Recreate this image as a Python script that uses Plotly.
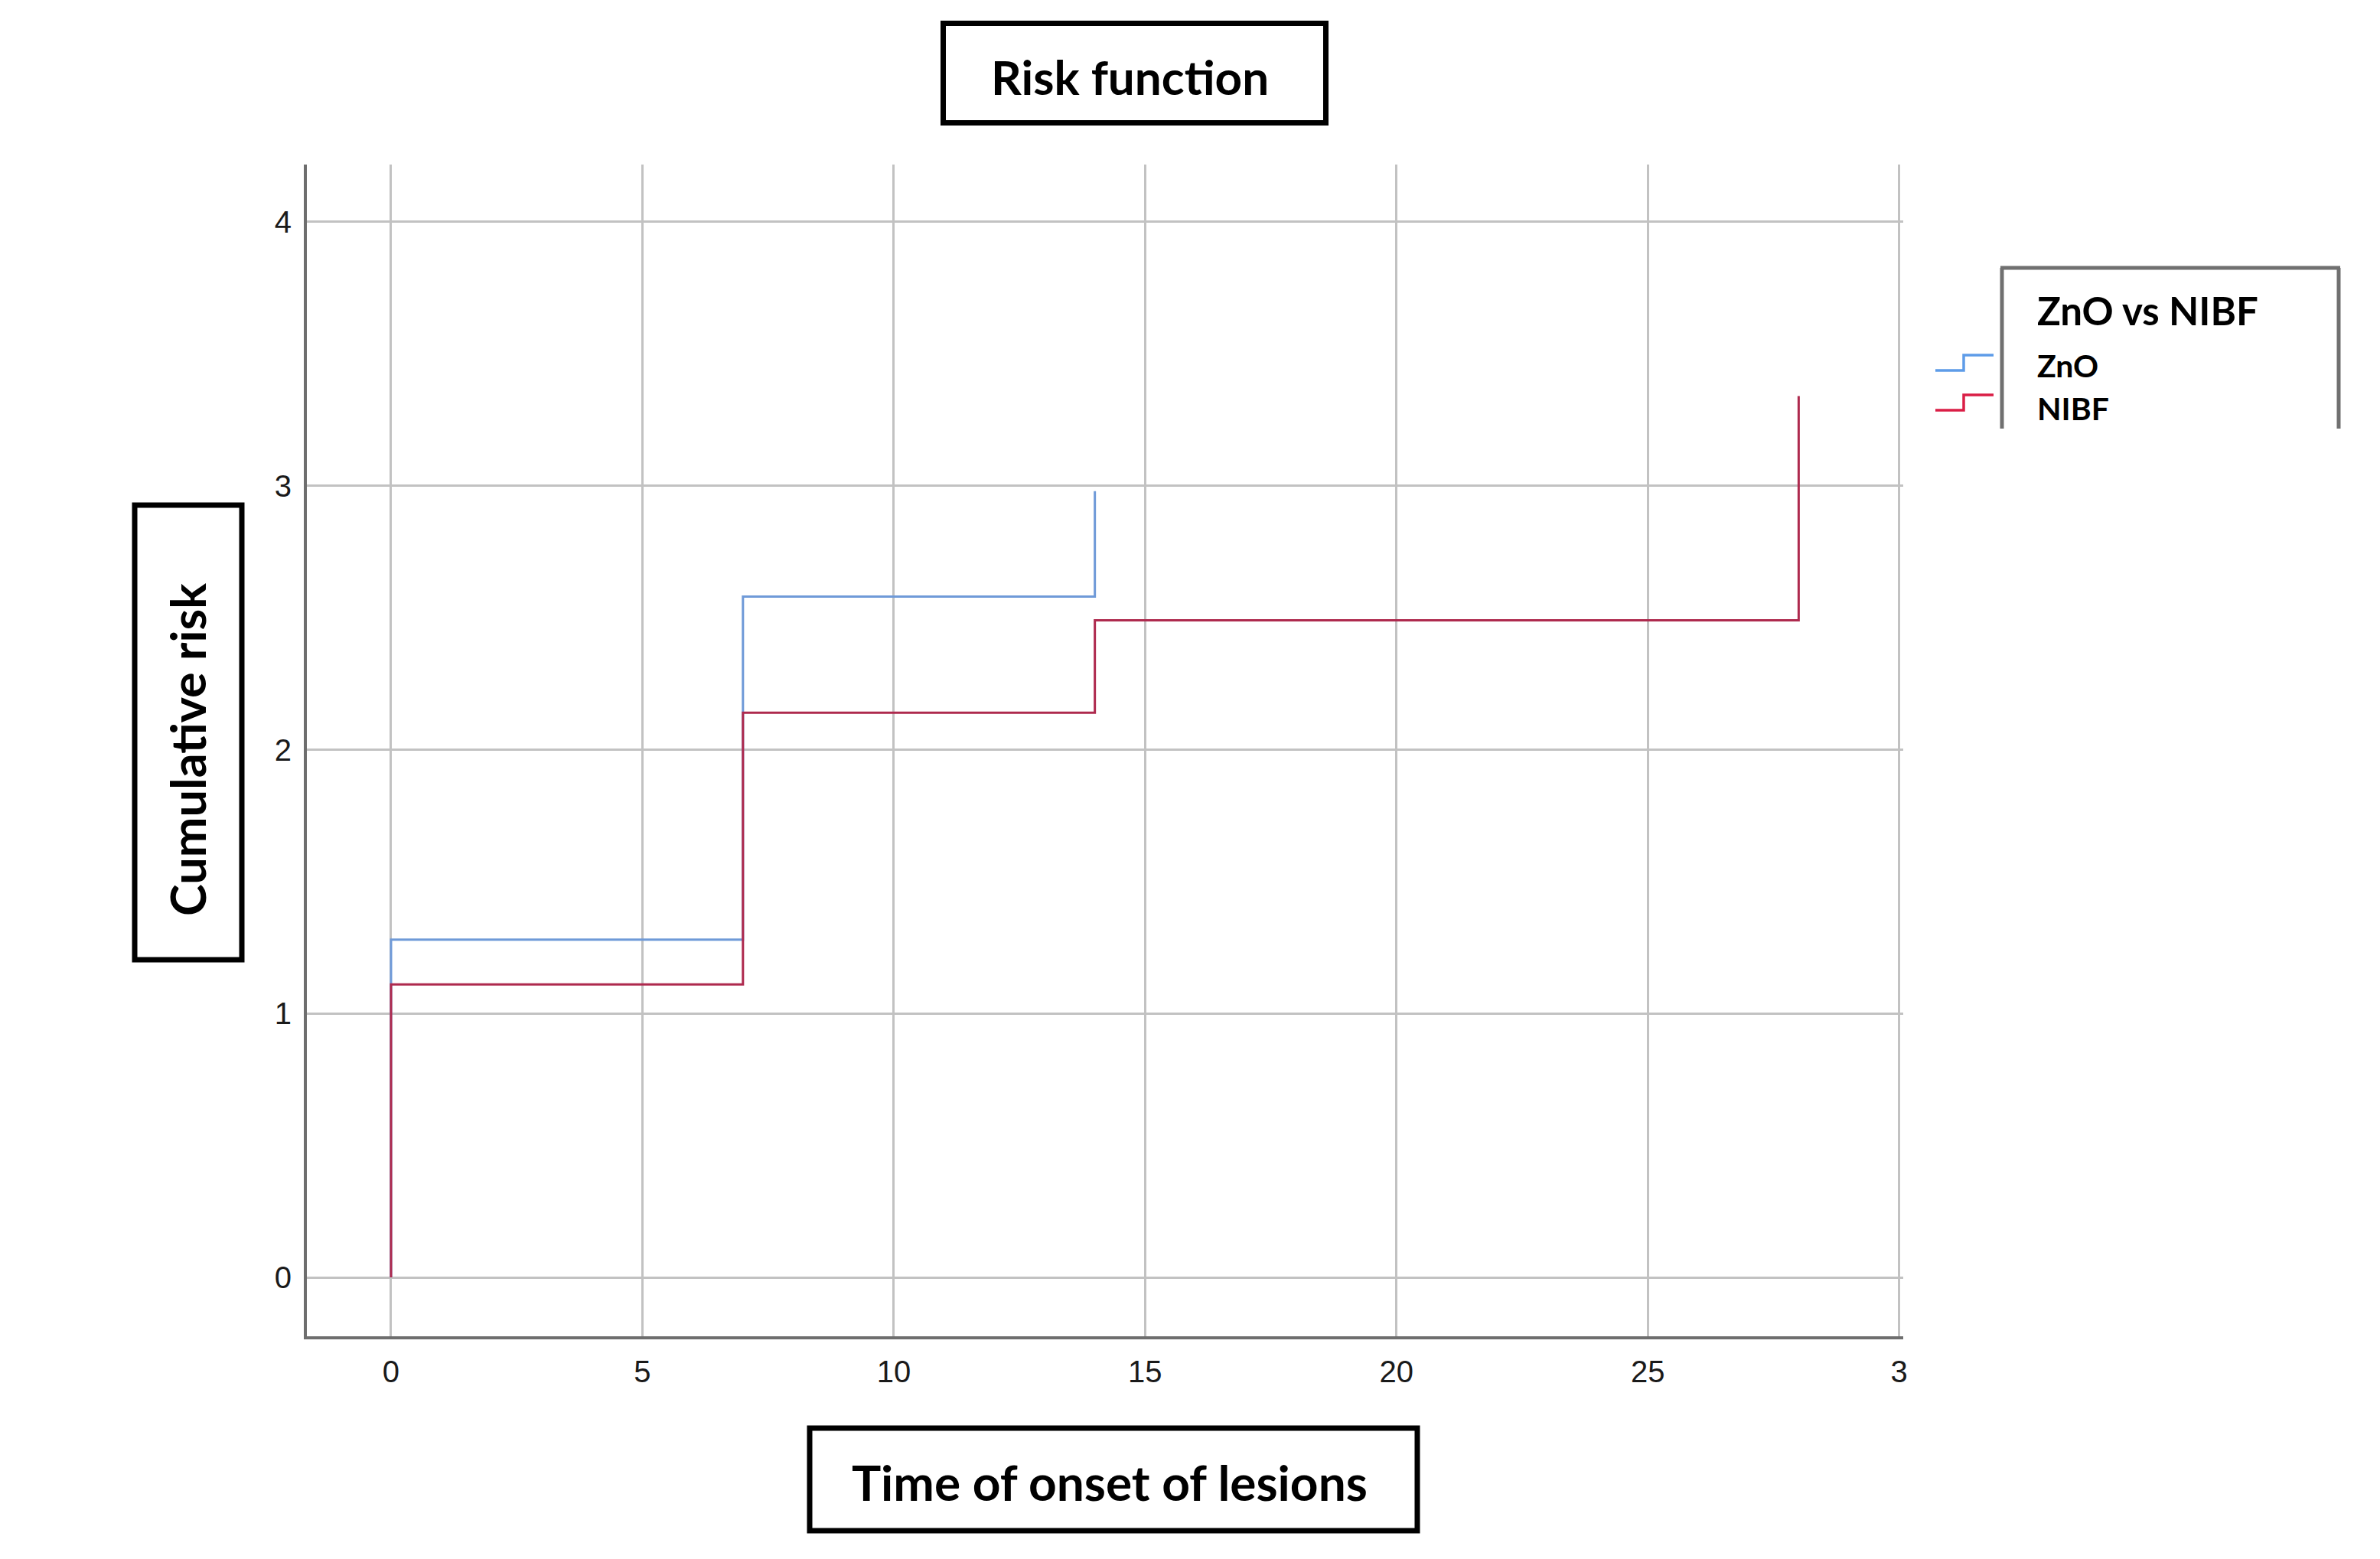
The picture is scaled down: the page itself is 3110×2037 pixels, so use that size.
import plotly.graph_objects as go

# ---------------- data ----------------
zno_time = [0, 0, 7, 14]
zno_risk = [0, 1.28, 2.58, 2.98]

nibf_time = [0, 0, 7, 14, 28]
nibf_risk = [0, 1.11, 2.14, 2.49, 3.34]

x_tick_vals = [0, 5, 10, 15, 20, 25, 30]
x_tick_text = ["0", "5", "10", "15", "20", "25", "3"]
y_tick_vals = [0, 1, 2, 3, 4]
y_tick_text = ["0", "1", "2", "3", "4"]

title_text = "Risk function"
x_title_text = "Time of onset of lesions"
y_title_text = "Cumulative risk"
legend_title_text = "ZnO vs NIBF"
series_names = ["ZnO", "NIBF"]

# ---------------- styling ----------------
W, H = 3110, 2037
L, R, T, B = 401, 2487, 215, 1746
OFF = 8  # page body margin
BLUE = "#6F9AD8"
RED = "#AE2A4E"
BLUE_LEG = "#5E9CE8"
RED_LEG = "#DA1E46"


def px_x(x):
    return (x - L) / (R - L)


def px_y(y):
    return (B - y) / (B - T)


fig = go.Figure()
fig.add_trace(go.Scatter(x=zno_time, y=zno_risk, mode="lines", name=series_names[0],
                         line=dict(color=BLUE, width=3, shape="hv"), showlegend=False))
fig.add_trace(go.Scatter(x=nibf_time, y=nibf_risk, mode="lines", name=series_names[1],
                         line=dict(color=RED, width=3, shape="hv"), showlegend=False))

axis_font = dict(family="Liberation Sans", size=40, color="#1a1a1a")
fig.update_xaxes(range=[-1.674, 30.08], tickvals=x_tick_vals, ticktext=x_tick_text,
                 showgrid=True, gridcolor="#c2c2c2", gridwidth=2.5,
                 showline=True, linecolor="#6e6e6e", linewidth=4,
                 zeroline=False, ticks="", tickfont=axis_font, ticklabelstandoff=8)
fig.update_yaxes(range=[-0.2233, 4.2175], tickvals=y_tick_vals, ticktext=y_tick_text,
                 showgrid=True, gridcolor="#c2c2c2", gridwidth=2.5,
                 showline=True, linecolor="#6e6e6e", linewidth=4,
                 zeroline=False, ticks="", tickfont=axis_font, ticklabelstandoff=8)

shapes = []
annotations = []


def box(x0, y0, x1, y1, width=7, color="black"):
    shapes.append(dict(type="rect", xref="paper", yref="paper",
                       x0=px_x(x0), x1=px_x(x1), y0=px_y(y1), y1=px_y(y0),
                       line=dict(color=color, width=width), fillcolor="rgba(0,0,0,0)"))


def text(s, x, y, size, anchor="center", angle=0, bold=True, family="Lato"):
    annotations.append(dict(text=("<b>%s</b>" % s) if bold else s, xref="paper", yref="paper",
                            x=px_x(x), y=px_y(y), xanchor=anchor, yanchor="middle",
                            showarrow=False, textangle=angle,
                            font=dict(family=family, size=size, color="black")))


# Title box
box(1232.5, 30.5, 1732.5, 160.5)
text(title_text, 1476, 100, 62)

# Y title box
box(176, 660, 316, 1254)
text(y_title_text, 244, 980, 63, angle=-90)

# X title box
box(1058, 1866, 1852, 2000)
text(x_title_text, 1450, 1936, 64)

# Legend frame (left, top, right; open at bottom)
LC = "#707070"
for (x0, y0, x1, y1) in [(2616, 350, 2616, 560), (2614, 350, 3058, 350), (3056, 350, 3056, 560)]:
    shapes.append(dict(type="line", xref="paper", yref="paper",
                       x0=px_x(x0), x1=px_x(x1), y0=px_y(y0), y1=px_y(y1),
                       line=dict(color=LC, width=5)))

text(legend_title_text, 2660, 405, 51, anchor="left")
text(series_names[0], 2660, 477, 41, anchor="left")
text(series_names[1], 2660, 533, 41, anchor="left")


# Legend step glyphs
def glyph(ylow, yhigh, color):
    path = "M %f,%f L %f,%f L %f,%f L %f,%f" % (
        px_x(2529), px_y(ylow), px_x(2566), px_y(ylow),
        px_x(2566), px_y(yhigh), px_x(2605), px_y(yhigh))
    shapes.append(dict(type="path", xref="paper", yref="paper", path=path,
                       line=dict(color=color, width=3.5)))


glyph(484, 464, BLUE_LEG)
glyph(536, 516, RED_LEG)

fig.update_layout(width=W, height=H,
                  margin=dict(l=L - OFF, r=W - R + OFF, t=T - OFF, b=H - B + OFF),
                  paper_bgcolor="white", plot_bgcolor="white",
                  shapes=shapes, annotations=annotations, showlegend=False)

fig.write_html("out.html")
